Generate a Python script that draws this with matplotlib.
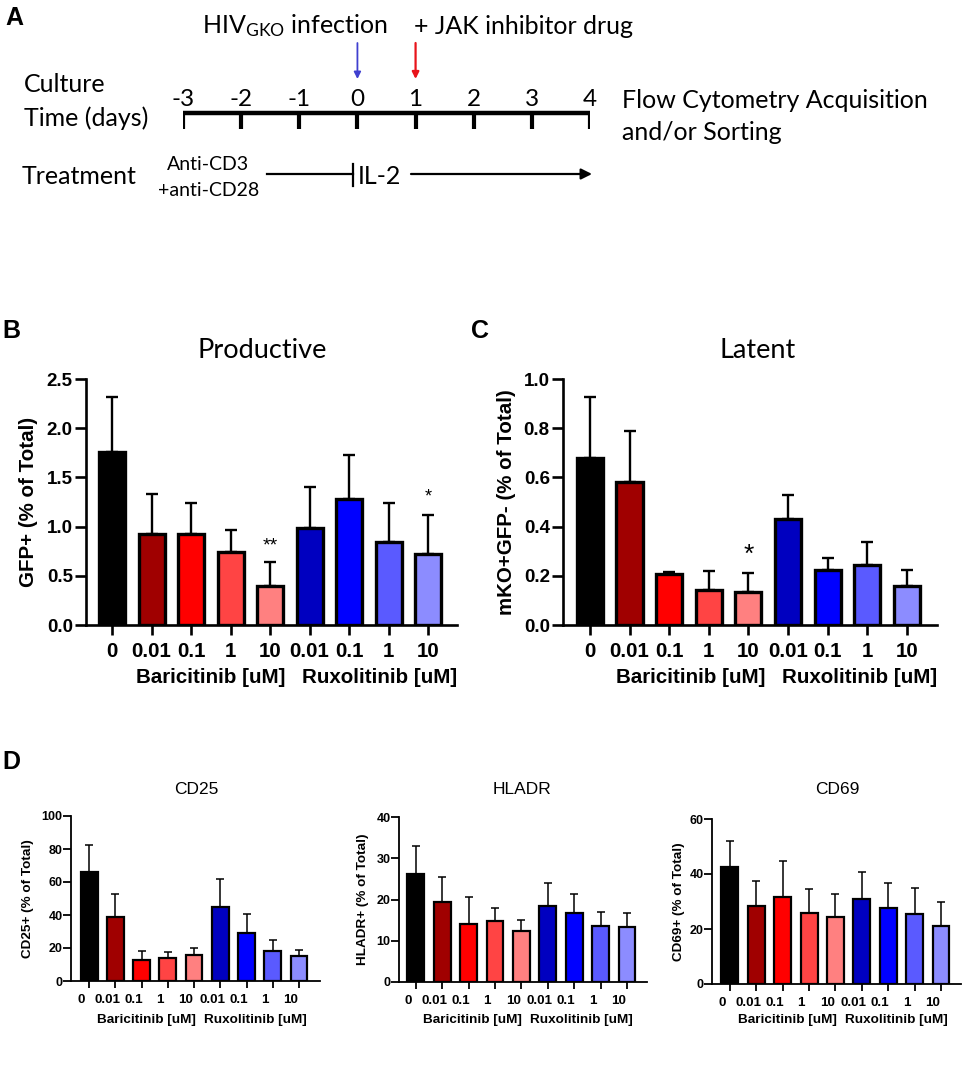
import matplotlib
matplotlib.use('Agg')
import matplotlib.pyplot as plt
import numpy as np
from matplotlib.transforms import blended_transform_factory, ScaledTranslation

plt.rcParams['font.family'] = ['Liberation Sans', 'DejaVu Sans']
plt.rcParams['mathtext.fontset'] = 'custom'
plt.rcParams['mathtext.rm'] = 'Lato'
plt.rcParams['mathtext.it'] = 'Lato:italic'

# ---------------- data ----------------
conc_labels = ['0', '0.01', '0.1', '1', '10', '0.01', '0.1', '1', '10']
drug_labels = ['Baricitinib [uM]', 'Ruxolitinib [uM]']
bar_colors = ['#000000', '#A00000', '#FF0000', '#FF4444', '#FF8080',
              '#0000C0', '#0000FF', '#5A5AFF', '#8C8CFF']

productive_mean = [1.76, 0.92, 0.92, 0.74, 0.40, 0.99, 1.28, 0.84, 0.72]
productive_upper = [2.32, 1.33, 1.24, 0.97, 0.64, 1.40, 1.73, 1.24, 1.12]
latent_mean = [0.68, 0.58, 0.206, 0.142, 0.135, 0.43, 0.222, 0.244, 0.159]
latent_upper = [0.925, 0.79, 0.216, 0.219, 0.21, 0.527, 0.271, 0.337, 0.222]
cd25_mean = [66.0, 38.8, 12.7, 14.0, 15.5, 45.0, 28.9, 18.0, 15.0]
cd25_upper = [82.5, 53.0, 18.0, 17.5, 20.3, 62.0, 40.8, 25.0, 19.0]
hladr_mean = [26.2, 19.5, 14.0, 14.7, 12.3, 18.4, 16.7, 13.5, 13.4]
hladr_upper = [32.9, 25.5, 20.6, 18.0, 15.1, 24.1, 21.4, 17.0, 16.8]
cd69_mean = [42.4, 28.4, 31.6, 25.9, 24.3, 31.0, 27.8, 25.3, 21.1]
cd69_upper = [52.0, 37.3, 44.8, 34.4, 32.8, 40.6, 36.6, 34.9, 29.9]

timeline_days = [-3, -2, -1, 0, 1, 2, 3, 4]
infection_day = 0
drug_day = 1

W, H = 967, 1067
fig = plt.figure(figsize=(W / 100, H / 100), dpi=100)


def px_axes(l, t, r, b):
    return fig.add_axes([l / W, 1 - b / H, (r - l) / W, (b - t) / H])


# overlay axes in pixel coordinates for annotation text
ax_px = fig.add_axes([0, 0, 1, 1], zorder=5)
ax_px.set_xlim(0, W)
ax_px.set_ylim(H, 0)
ax_px.axis('off')
ax_px.patch.set_alpha(0)


def bar_panel(ax, mean, upper, xlim, ymax, yticks, yfmt, ylabel, ylab_x,
              big, row2_x, row2_y, xoff=0):
    x = np.arange(len(mean))
    mean = np.array(mean)
    err = np.array(upper) - mean
    if big:
        bw, elw, erw, cap, spw = 0.66, 2.4, 1.7, 4.5, 1.9
        tl_y, tl_x, fs_y, fs_x, fs_lab, pad_x, pad_y = 8, 7, 13.5, 14.8, 14.8, 5, 1.5
    else:
        bw, elw, erw, cap, spw = 0.64, 1.6, 1.1, 3.0, 1.3
        tl_y, tl_x, fs_y, fs_x, fs_lab, pad_x, pad_y = 5.5, 5, 9, 9.7, 9.7, 4.5, 0.5
    ax.errorbar(x, mean, yerr=[np.zeros_like(err), err], fmt='none',
                ecolor='black', elinewidth=erw, capsize=cap, capthick=erw, zorder=1)
    ax.bar(x, mean, width=bw, color=bar_colors, edgecolor='black',
           linewidth=elw, zorder=2)
    ax.set_xlim(*xlim)
    ax.set_ylim(0, ymax)
    ax.spines['top'].set_visible(False)
    ax.spines['right'].set_visible(False)
    for s in ('left', 'bottom'):
        ax.spines[s].set_linewidth(spw)
    ax.set_yticks(yticks)
    ax.set_yticklabels([yfmt.format(v) for v in yticks])
    ax.set_xticks(x)
    ax.set_xticklabels(conc_labels)
    ax.tick_params(axis='y', length=tl_y, width=spw, pad=pad_y, labelsize=fs_y)
    ax.tick_params(axis='x', length=tl_x, width=spw, pad=pad_x, labelsize=fs_x)
    for lab in ax.get_xticklabels() + ax.get_yticklabels():
        lab.set_fontweight('bold')
    if xoff:
        off = ScaledTranslation(xoff / 100, 0, fig.dpi_scale_trans)
        for lab in ax.get_xticklabels():
            lab.set_transform(lab.get_transform() + off)
    ax.text(ylab_x, 0.5, ylabel, rotation=90, ha='center', va='center',
            transform=ax.transAxes, fontsize=fs_lab, fontweight='bold')
    tr = blended_transform_factory(ax.transData, ax.transAxes)
    for dx, dl in zip(row2_x, drug_labels):
        ax.text(dx, row2_y, dl, transform=tr, ha='center', va='center',
                fontsize=fs_x, fontweight='bold')
    ax.patch.set_alpha(0)


# ---------------- Panel B ----------------
axB = px_axes(86, 379, 457, 625)
bar_panel(axB, productive_mean, productive_upper, (-0.66, 8.73), 2.5,
          [0, 0.5, 1.0, 1.5, 2.0, 2.5], '{:.1f}', 'GFP+ (% of Total)', -0.154,
          True, [2.5, 6.76], -0.215)
axB.text(4, 0.80, '**', ha='center', va='center', fontsize=14)
axB.text(8, 1.30, '*', ha='center', va='center', fontsize=13)

# ---------------- Panel C ----------------
axC = px_axes(563, 379, 937, 625)
bar_panel(axC, latent_mean, latent_upper, (-0.68, 8.76), 1.0,
          [0, 0.2, 0.4, 0.6, 0.8, 1.0], '{:.1f}', 'mKO+GFP- (% of Total)', -0.15,
          True, [2.54, 6.8], -0.215)
axC.text(4, 0.285, '*', ha='center', va='center', fontsize=19)

# ---------------- Panel D ----------------
axD1 = px_axes(71, 816, 320, 981)
bar_panel(axD1, cd25_mean, cd25_upper, (-0.69, 8.8), 100,
          [0, 20, 40, 60, 80, 100], '{:d}', 'CD25+ (% of Total)', -0.173,
          False, [2.17, 6.33], -0.236, xoff=-8)
axD2 = px_axes(399, 817, 647, 982)
bar_panel(axD2, hladr_mean, hladr_upper, (-0.64, 8.76), 40,
          [0, 10, 20, 30, 40], '{:d}', 'HLADR+ (% of Total)', -0.145,
          False, [2.16, 6.29], -0.23, xoff=-8)
axD3 = px_axes(712, 819, 961, 984)
bar_panel(axD3, cd69_mean, cd69_upper, (-0.68, 8.76), 60,
          [0, 20, 40, 60], '{:d}', 'CD69+ (% of Total)', -0.133,
          False, [2.17, 6.3], -0.218, xoff=-8)

# titles
ax_px.text(262, 351, 'Productive', ha='center', va='center', fontsize=19.5, family='Lato')
ax_px.text(758, 351, 'Latent', ha='center', va='center', fontsize=19.5, family='Lato')
ax_px.text(196, 789, 'CD25', ha='center', va='center', fontsize=12.5)
ax_px.text(522, 789, 'HLADR', ha='center', va='center', fontsize=12.5)
ax_px.text(837, 789, 'CD69', ha='center', va='center', fontsize=12.5)

# panel letters
for lx, ly, letter in [(5, 18, 'A'), (2, 331, 'B'), (471, 331, 'C'), (2, 762, 'D')]:
    ax_px.text(lx, ly, letter, ha='left', va='center', fontsize=18, fontweight='bold')

# ---------------- Panel A ----------------
axT = px_axes(183, 0, 590, 200)
axT.set_xlim(timeline_days[0], timeline_days[-1])
axT.set_ylim(200, 0)
axT.axis('off')
axT.patch.set_alpha(0)
axT.plot([timeline_days[0], timeline_days[-1]], [113, 113], color='black', lw=3.2,
         solid_capstyle='projecting')
axT.vlines(timeline_days, 113, 129, color='black', lw=3)
for d in timeline_days:
    axT.text(d, 99, str(d), ha='center', va='center', fontsize=17.5, family='Lato')
axT.annotate('', xy=(infection_day, 79), xytext=(infection_day, 43),
             arrowprops=dict(arrowstyle='-|>', color='#3F3FCF', lw=1.3, mutation_scale=10,
                             shrinkA=0, shrinkB=0))
axT.annotate('', xy=(drug_day, 79), xytext=(drug_day, 43),
             arrowprops=dict(arrowstyle='-|>', color='#E8141B', lw=1.6, mutation_scale=10,
                             shrinkA=0, shrinkB=0))

fa = dict(family='Lato', fontsize=18, va='center')
ax_px.text(202, 26, r'HIV$_{\mathrm{GKO}}$ infection', ha='left', **fa)
ax_px.text(414, 26, '+ JAK inhibitor drug', ha='left', **fa)
ax_px.text(24, 84, 'Culture', ha='left', **fa)
ax_px.text(24, 118, 'Time (days)', ha='left', **fa)
ax_px.text(622, 100, 'Flow Cytometry Acquisition', ha='left', **fa)
ax_px.text(622, 132, 'and/or Sorting', ha='left', **fa)
ax_px.text(22, 177, 'Treatment', ha='left', **fa)
ax_px.text(208, 164, 'Anti-CD3', ha='center', va='center', family='Lato', fontsize=14)
ax_px.text(209, 190, '+anti-CD28', ha='center', va='center', family='Lato', fontsize=14)
ax_px.plot([267, 353], [174, 174], color='black', lw=1.6)
ax_px.plot([353, 353], [164, 186], color='black', lw=1.6)
ax_px.text(358, 177, 'IL-2', ha='left', **fa)
ax_px.annotate('', xy=(592, 174), xytext=(411, 174),
               arrowprops=dict(arrowstyle='-|>', color='black', lw=1.6, mutation_scale=16,
                               shrinkA=0, shrinkB=0))

fig.savefig('out.png', dpi=100)
